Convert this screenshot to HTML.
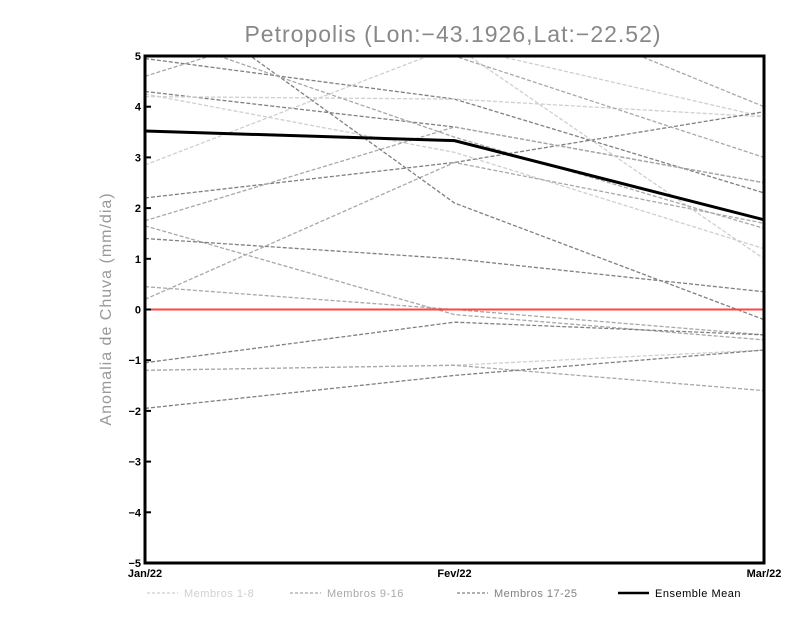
<!DOCTYPE html>
<html><head><meta charset="utf-8"><style>body{margin:0;background:#fff}svg{display:block}</style></head>
<body>
<svg id="chart" width="800" height="618" xmlns="http://www.w3.org/2000/svg" font-family="Liberation Sans, sans-serif">
<defs><clipPath id="clip"><rect x="145" y="56" width="619" height="507"/></clipPath></defs>
<text x="453" y="42" text-anchor="middle" font-size="23" fill="#888" letter-spacing="1">Petropolis (Lon:−43.1926,Lat:−22.52)</text>
<text transform="translate(111,309) rotate(-90)" text-anchor="middle" font-size="16" fill="#999" letter-spacing="1">Anomalia de Chuva (mm/dia)</text>
<g id="members" clip-path="url(#clip)"></g>
<g id="axes"></g>
<g id="legend"></g>
</svg>
<script>
const categories = ["Jan/22","Fev/22","Mar/22"];
const yTicks = [-5,-4,-3,-2,-1,0,1,2,3,4,5];
const members = [
 [4.95,4.15,2.3],[4.6,6.5,4.0],[4.3,3.6,2.5],[4.2,4.15,3.8],[4.25,3.1,1.2],[2.85,5.2,3.8],
 [2.2,2.9,3.9],[1.75,3.6,2.5],[1.65,-0.1,-0.6],[1.4,1.0,0.35],[0.45,0.0,-0.5],[0.2,2.9,1.7],
 [-1.05,-0.25,-0.5],[-1.2,-1.1,-0.8],[-1.2,-1.1,-1.6],[-1.95,-1.3,-0.8],[6.5,2.1,-0.2],
 [7.0,5.2,1.0],[6.0,5.0,3.0],[5.5,3.4,1.6]
];
const memberGroup = [2,1,2,0,0,0,2,1,1,2,1,1,2,0,1,2,2,0,1,1];
const ensembleMean = [3.52,3.33,1.77];
const X0=145,X1=764,Y0=563,Y1=56;
const xs=i=>X0+(X1-X0)*i/(categories.length-1);
const ys=v=>Y0-(v+5)/10*(Y0-Y1);
const NS="http://www.w3.org/2000/svg";
function mk(t,a,p){const e=document.createElementNS(NS,t);for(const k in a)e.setAttribute(k,a[k]);(p||document.getElementById('chart')).appendChild(e);return e;}
const colors=["#cfcfcf","#a8a8a8","#808080"];
const gm=document.getElementById('members');
members.forEach((m,i)=>{
 const p=mk('polyline',{points:m.map((v,j)=>xs(j)+','+ys(v)).join(' '),fill:'none',stroke:colors[memberGroup[i]],'stroke-width':1.3,'stroke-dasharray':'4,2'},gm);
 
 
});
const z=mk('line',{x1:X0,x2:X1,y1:ys(0),y2:ys(0),stroke:'#f44',"stroke-width":2});


const em=mk('polyline',{points:ensembleMean.map((v,j)=>xs(j)+','+ys(v)).join(' '),fill:'none',stroke:'#000','stroke-width':3});


const fr=mk('rect',{x:X0,y:Y1,width:X1-X0,height:Y0-Y1,fill:'none',stroke:'#000','stroke-width':3});


yTicks.forEach(t=>{
 mk('line',{x1:X0,x2:X0+6,y1:ys(t),y2:ys(t),stroke:'#000','stroke-width':2});
 const l=mk('text',{x:X0-4,y:ys(t)+4,'text-anchor':'end','font-size':11,'font-weight':'bold'});
 l.textContent=t<0?'−'+(-t):t;
 
 
});
categories.forEach((c,i)=>{
 const l=mk('text',{x:xs(i),y:577,'text-anchor':'middle','font-size':11,'font-weight':'bold'});
 l.textContent=c;
 
 
});
const lg=document.getElementById('legend');
const legendLabels=["Membros 1-8","Membros 9-16","Membros 17-25","Ensemble Mean"];
const lx=[147,290,457,618];
legendLabels.forEach((t,i)=>{
 const isMean=i===3;
 mk('line',{x1:lx[i],x2:lx[i]+31,y1:593,y2:593,stroke:isMean?'#000':colors[i],'stroke-width':isMean?2.5:1.3,'stroke-dasharray':isMean?'none':'3,2'},lg);
 const l=mk('text',{x:lx[i]+37,y:597,'font-size':11,fill:isMean?'#000':colors[i],'letter-spacing':'0.5'},lg);
 l.textContent=t;
 
 
});
</script>
</body></html>
